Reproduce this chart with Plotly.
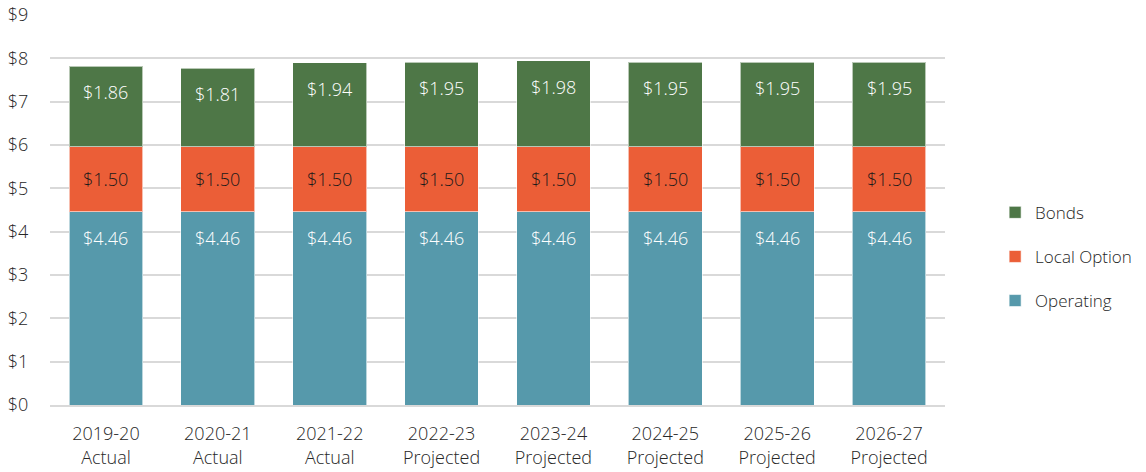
import plotly.graph_objects as go

years = ["2019-20", "2020-21", "2021-22", "2022-23", "2023-24", "2024-25", "2025-26", "2026-27"]
status = ["Actual", "Actual", "Actual", "Projected", "Projected", "Projected", "Projected", "Projected"]
operating = [4.46, 4.46, 4.46, 4.46, 4.46, 4.46, 4.46, 4.46]
local_option = [1.50, 1.50, 1.50, 1.50, 1.50, 1.50, 1.50, 1.50]
bonds = [1.86, 1.81, 1.94, 1.95, 1.98, 1.95, 1.95, 1.95]
y_ticks = [0, 1, 2, 3, 4, 5, 6, 7, 8, 9]

categories = [f"{y}<br>{s}" for y, s in zip(years, status)]
FONT = "Open Sans"
TEXT = "#262626"
WEIGHT = 300

fig = go.Figure()
series = [
    ("Operating", operating, "#5699AB", "white", 3),
    ("Local Option", local_option, "#EB5E37", "#1a1a1a", 2),
    ("Bonds", bonds, "#4E7747", "white", 1),
]
for name, vals, color, tcolor, rank in series:
    fig.add_trace(go.Bar(
        x=categories, y=vals, name=name, legendgroup=name, legendrank=rank,
        marker=dict(color=color, line=dict(color="rgba(255,255,255,0.6)", width=1)),
        hoverinfo="skip",
    ))

# value labels placed inside each segment
base = [0.0] * len(categories)
for name, vals, color, tcolor, rank in series:
    for j, v in enumerate(vals):
        top = base[j] + v
        if name == "Local Option":
            fig.add_annotation(x=categories[j], y=base[j] + v / 2, text=f"${v:.2f}",
                               showarrow=False, yanchor="middle",
                               font=dict(family=FONT, size=18, color=tcolor, weight=WEIGHT))
        else:
            fig.add_annotation(x=categories[j], y=top, text=f"${v:.2f}",
                               showarrow=False, yanchor="middle", yshift=-26,
                               font=dict(family=FONT, size=18, color=tcolor, weight=WEIGHT))
        base[j] = top

fig.update_layout(
    barmode="stack",
    bargap=0.34,
    width=1146, height=472,
    margin=dict(l=50, r=201, t=15, b=67, autoexpand=False),
    paper_bgcolor="white", plot_bgcolor="white",
    font=dict(family=FONT, size=18, color=TEXT, weight=WEIGHT),
    legend=dict(traceorder="grouped", x=1.056, y=0.38, xanchor="left", yanchor="middle",
                tracegroupgap=19, font=dict(family=FONT, size=17, color=TEXT, weight=WEIGHT)),
    yaxis=dict(range=[0, 9], tickmode="array", tickvals=y_ticks,
               ticktext=[f"${t}" for t in y_ticks], showgrid=True, automargin=False,
               gridcolor="#D9D9D9", gridwidth=1.5, zeroline=False,
               ticks="outside", ticklen=17, tickcolor="rgba(0,0,0,0)",
               tickfont=dict(size=18, color=TEXT, weight=WEIGHT)),
    xaxis=dict(showline=True, linecolor="#D9D9D9", linewidth=1.5, automargin=False,
               ticks="outside", ticklen=12, tickcolor="rgba(0,0,0,0)",
               tickfont=dict(size=18, color=TEXT, weight=WEIGHT)),
)

fig.write_html("out.html")
